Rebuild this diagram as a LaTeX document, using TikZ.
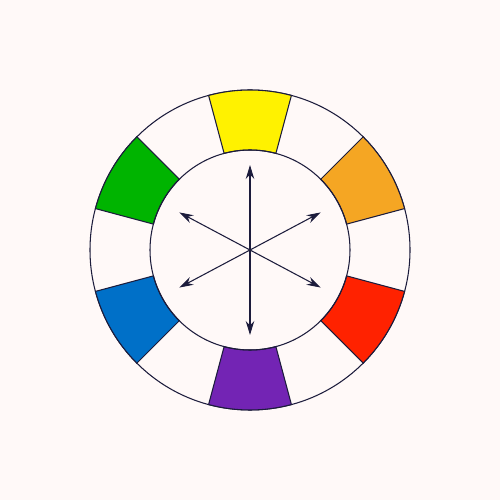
\documentclass[tikz,border=0pt]{standalone}
\usepackage{tikz}
\usetikzlibrary{arrows.meta, positioning}
\definecolor{bgpink}{HTML}{FFF9F8}
\definecolor{rim}{HTML}{1C1C3C}
\definecolor{wheelyellow}{HTML}{FFF200}
\definecolor{wheelorange}{HTML}{F5A623}
\definecolor{wheelred}{HTML}{FF2200}
\definecolor{wheelpurple}{HTML}{7324B4}
\definecolor{wheelblue}{HTML}{0070C8}
\definecolor{wheelgreen}{HTML}{00B400}
\tikzstyle{segment} = [draw=rim, line width=0.6pt]
\tikzstyle{pointer} = [{Stealth[length=2.8mm, width=1.7mm]}-{Stealth[length=2.8mm, width=1.7mm]}, draw=rim, line width=0.6pt]

\begin{document}
\begin{tikzpicture}
\fill[bgpink] (-5,-5) rectangle (5,5);
\useasboundingbox (-5,-5) rectangle (5,5);
\draw[segment, fill=bgpink] (0,0) circle (3.2);
\foreach \ang/\col in {90/wheelyellow, 30/wheelorange, -30/wheelred, -90/wheelpurple, 210/wheelblue, 150/wheelgreen}
  \draw[segment, fill=\col] (\ang-15:2) -- (\ang-15:3.2) arc[start angle=\ang-15, end angle=\ang+15, radius=3.2] -- (\ang+15:2) arc[start angle=\ang+15, end angle=\ang-15, radius=2] -- cycle;
\draw[segment] (0,0) circle (2);
\coordinate (hub) at (0,0);
\coordinate (top) at (90:1.7);
\coordinate (bottom) at (-90:1.7);
\coordinate (upleft) at (152:1.6);
\coordinate (downright) at (-28:1.6);
\coordinate (upright) at (28:1.6);
\coordinate (downleft) at (208:1.6);
\draw[pointer] (bottom) -- (top);
\draw[pointer] (downright) -- (upleft);
\draw[pointer] (downleft) -- (upright);
\end{tikzpicture}
\end{document}
